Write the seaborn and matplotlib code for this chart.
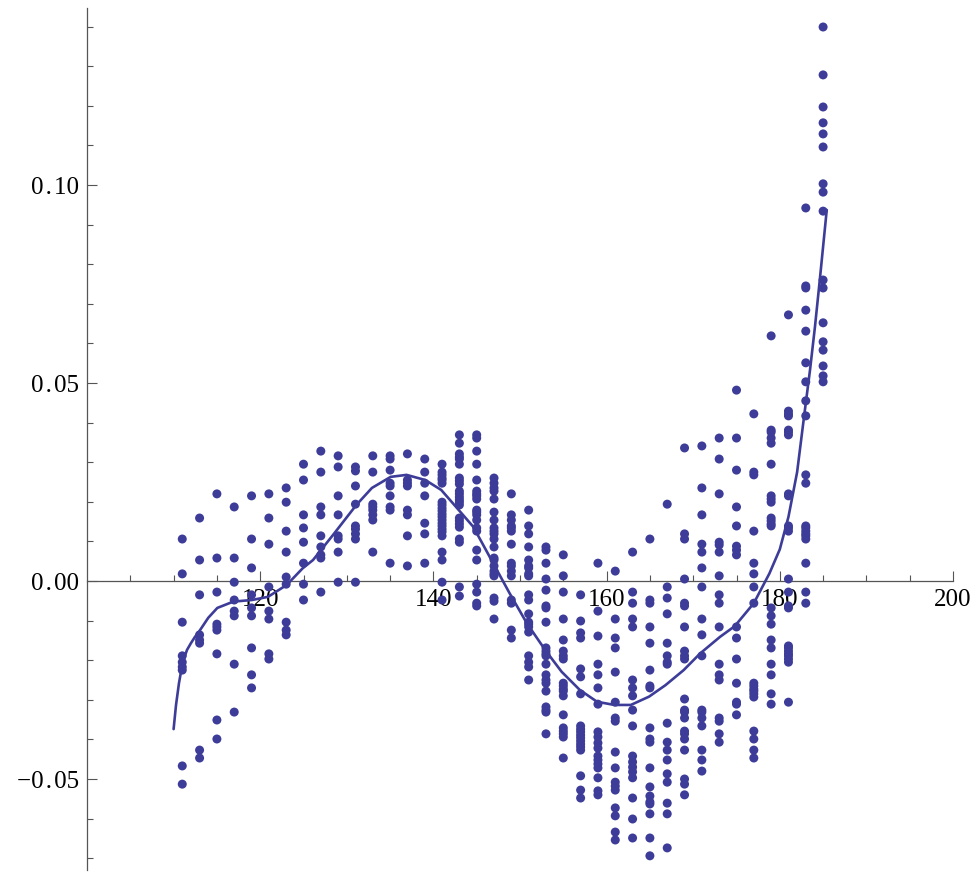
import numpy as np
import pandas as pd
import matplotlib
matplotlib.use("Agg")
import matplotlib.pyplot as plt
import seaborn as sns
from matplotlib.ticker import FixedLocator, FuncFormatter

# ---------------- data ----------------
x_columns = [111, 113, 115, 117, 119, 121, 123, 125, 127, 129, 131, 133, 135, 137,
             139, 141, 143, 145, 147, 149, 151, 153, 155, 157, 159, 161, 163, 165,
             167, 169, 171, 173, 175, 177, 179, 181, 183, 185]

# y values per column, in units of 1e-3
y111 = [10.6, 1.8, -10.4, -18.9, -20.5, -21.7, -22.5, -46.7, -51.3]
y113 = [15.9, 5.3, -3.5, -13.6, -14.9, -15.7, -42.7, -44.7]
y115 = [22.0, 5.8, -2.8, -10.9, -11.6, -12.4, -18.4, -35.1, -39.9]
y117 = [18.7, 5.8, -0.3, -4.8, -7.6, -8.8, -21.0, -33.1]
y119 = [21.5, 10.6, 3.3, -3.5, -6.8, -8.8, -16.9, -23.7, -27.0]
y121 = [22.0, 15.9, 9.3, -1.5, -7.6, -9.6, -18.4, -19.7]
y123 = [23.5, 19.9, 12.6, 7.3, 1.0, -0.8, -10.4, -12.4, -13.6]
y125 = [29.5, 25.5, 16.7, 13.4, 9.8, 4.5, -0.8, -4.8]
y127 = [32.8, 27.5, 18.7, 16.7, 11.4, 8.6, 6.6, 5.8, -2.8]
y129 = [31.6, 28.8, 21.5, 16.7, 11.4, 10.6, 7.3, -0.3]
y131 = [28.8, 27.8, 24.0, 19.4, 13.9, 13.1, 11.9, 10.6, -0.3]
y133 = [31.6, 27.5, 19.4, 18.7, 17.9, 16.7, 15.4, 7.3]
y135 = [31.6, 30.8, 28.0, 24.7, 24.0, 21.5, 18.7, 17.9, 4.5]
y137 = [32.1, 25.5, 24.7, 24.0, 17.9, 16.7, 11.4, 3.8]
y139 = [30.8, 27.5, 24.7, 21.5, 14.6, 11.9, 4.5]
y141 = [29.5, 27.5, 26.8, 26.0, 25.5, 24.7, 19.9, 19.2, 18.4, 17.7, 16.9, 16.2,
        15.4, 14.6, 13.9, 13.1, 12.4, 11.4, 7.3, 5.3, -0.3, -4.8]
y143 = [36.9, 34.8, 32.1, 31.3, 30.8, 29.5, 26.0, 25.3, 24.5, 22.7, 22.0, 21.2,
        20.5, 19.9, 19.2, 15.9, 15.2, 14.4, 13.6, 10.6, 9.8, -1.5, -3.8]
y145 = [36.9, 36.1, 32.8, 29.5, 25.5, 22.7, 22.0, 21.5, 20.7, 17.9, 17.4, 16.7,
        15.4, 13.4, 12.6, 7.8, 5.3, -0.8, -2.8, -5.6, -6.3]
y147 = [26.0, 24.7, 23.5, 22.7, 20.7, 17.4, 15.4, 13.4, 12.6, 11.9, 10.6, 8.6,
        5.8, 5.3, 3.8, 2.5, 1.8, 1.3, -4.3, -5.1, -9.6]
y149 = [22.0, 16.7, 15.4, 13.9, 13.4, 12.6, 9.3, 4.5, 3.8, 2.5, 1.3, -4.8, -5.6,
        -12.4, -14.4]
y151 = [17.9, 13.9, 11.9, 8.6, 5.3, 3.8, 3.3, 1.8, 1.3, -3.5, -4.8, -8.3, -10.4,
        -10.9, -11.6, -12.9, -18.9, -20.5, -21.7, -25.0]
y153 = [8.6, 7.8, 4.5, 0.5, -2.3, -6.3, -6.8, -10.4, -16.9, -17.7, -18.4, -18.9,
        -21.0, -23.7, -25.0, -25.8, -27.8, -31.8, -32.6, -33.1, -38.6]
y155 = [6.6, 1.3, -2.8, -9.6, -14.9, -17.7, -18.9, -19.7, -25.8, -26.5, -27.3,
        -27.8, -29.0, -33.8, -37.1, -37.9, -38.6, -39.4, -44.7]
y157 = [-3.5, -10.1, -13.1, -14.4, -22.2, -24.2, -28.5, -36.6, -37.4, -38.1, -38.9,
        -39.6, -40.4, -41.2, -41.9, -42.7, -49.2, -52.8, -54.8]
y159 = [4.5, -7.6, -13.9, -21.0, -23.7, -27.0, -31.1, -38.1, -39.4, -40.9, -42.2,
        -44.2, -45.2, -46.2, -47.2, -49.7, -53.0, -54.0]
y161 = [2.5, -9.6, -14.4, -16.9, -23.0, -30.6, -34.6, -35.4, -43.2, -47.2, -50.8,
        -51.8, -52.8, -57.3, -59.3, -63.4, -65.4]
y163 = [7.3, -2.8, -5.6, -9.6, -11.6, -25.0, -27.0, -29.0, -32.6, -36.6, -44.2,
        -45.7, -47.0, -48.2, -49.7, -54.8, -60.1, -64.9]
y165 = [10.6, -4.8, -5.6, -11.6, -15.7, -22.5, -26.5, -27.0, -37.1, -39.9, -40.7,
        -47.2, -52.0, -54.3, -55.8, -56.3, -58.8, -64.9, -69.4]
y167 = [19.4, -1.5, -4.3, -8.3, -15.7, -18.9, -20.5, -21.0, -35.9, -40.7, -42.7,
        -45.2, -48.7, -50.8, -56.1, -58.8, -67.4]
y169 = [33.6, 11.9, 10.6, 0.5, -5.6, -6.3, -11.6, -17.7, -18.9, -19.7, -29.8,
        -32.6, -33.1, -34.6, -37.9, -38.6, -39.9, -42.7, -50.0, -51.3, -54.0]
y171 = [34.1, 23.5, 16.7, 9.3, 7.3, 3.3, -1.5, -9.6, -13.6, -18.9, -32.6, -33.1,
        -34.6, -36.6, -42.7, -45.2, -48.0]
y173 = [36.1, 30.8, 22.0, 9.8, 9.1, 7.3, 1.3, -3.5, -5.6, -11.6, -21.0, -23.7,
        -25.0, -34.6, -35.4, -38.6, -40.7]
y175 = [48.2, 36.1, 28.0, 18.7, 13.9, 8.8, 7.8, 6.6, -11.6, -14.4, -19.7, -25.8,
        -30.6, -31.1, -33.8]
y177 = [42.2, 27.5, 26.8, 12.6, 4.5, 1.8, -1.5, -5.6, -25.8, -26.5, -27.3, -27.8,
        -28.5, -29.3, -37.9, -39.9, -42.7, -44.7]
y179 = [61.9, 38.1, 37.6, 36.1, 34.8, 29.5, 21.5, 20.7, 19.9, 15.9, 15.2, 14.4,
        13.9, -6.8, -8.8, -10.9, -14.9, -16.9, -21.0, -23.7, -28.5, -31.1]
y181 = [67.2, 42.9, 42.2, 41.7, 38.1, 37.6, 36.9, 22.0, 21.5, 13.9, 13.4, 12.6,
        0.5, -2.8, -6.3, -6.8, -16.4, -16.9, -17.7, -18.4, -18.9, -19.7, -20.5, -30.6]
y183 = [94.2, 74.5, 74.0, 68.4, 63.1, 55.1, 50.3, 45.5, 41.7, 26.8, 24.7, 13.9,
        13.4, 12.6, 11.9, 11.4, 10.6, 4.5, -2.8, -5.6]
y185 = [139.9, 127.8, 119.7, 115.7, 112.9, 109.6, 100.3, 98.2, 93.4, 76.0, 74.0,
        65.2, 60.4, 58.3, 54.3, 51.8, 50.3]

y_columns = [y111, y113, y115, y117, y119, y121, y123, y125, y127, y129, y131, y133,
             y135, y137, y139, y141, y143, y145, y147, y149, y151, y153, y155, y157,
             y159, y161, y163, y165, y167, y169, y171, y173, y175, y177, y179, y181,
             y183, y185]

# fitted curve (y in units of 1e-3)
curve_x = [110.0, 110.28, 110.62, 111.05, 111.55, 112.0, 112.47, 112.9, 114.0,
           115.05, 116.9, 119.05, 120.9, 123.06, 124.9, 126.1, 128.4, 131.1, 132.9,
           135.07, 136.9, 139.06, 140.9, 141.9, 144.6, 146.9, 148.8, 150.8, 152.9,
           154.8, 156.9, 158.9, 160.9, 162.8, 164.9, 166.8, 168.9, 170.8, 173.1,
           174.8, 177.0, 178.8, 180.0, 181.0, 182.0, 182.8, 183.49, 184.06, 184.64,
           185.42]
curve_y = [-37.4, -31.3, -25.8, -20.5, -17.4, -15.7, -14.1, -12.9, -9.3,
           -6.8, -5.2, -4.8, -4.0, -1.0, 3.2, 5.3, 11.6, 19.2, 23.5,
           26.3, 26.8, 25.5, 23.0, 20.5, 13.7, 4.5, -3.1, -10.7, -17.4,
           -22.9, -27.5, -30.5, -31.3, -31.3, -29.2, -26.3, -22.5, -18.3, -14.1,
           -11.4, -5.6, 1.9, 8.0, 16.2, 27.5, 41.5, 53.3, 64.2, 76.5,
           93.7]

x_major = [120, 140, 160, 180, 200]
y_major = [-0.05, 0.00, 0.05, 0.10]

# ---------------- build tables ----------------
rows = []
for xc, ys in zip(x_columns, y_columns):
    for yv in ys:
        rows.append((xc, yv * 1e-3))
points = pd.DataFrame(rows, columns=["x", "y"])
curve = pd.DataFrame({"x": curve_x, "y": np.array(curve_y) * 1e-3})

# ---------------- style ----------------
sns.set_style("white")
plt.rcParams["font.family"] = ["Liberation Serif", "DejaVu Serif"]
plt.rcParams["axes.unicode_minus"] = True

W, H = 974, 872
fig = plt.figure(figsize=(W / 100, H / 100), dpi=100)
ax = fig.add_axes([87 / W, 2 / H, 866 / W, 862 / H])

color = "#3D3D99"
sns.scatterplot(data=points, x="x", y="y", ax=ax, color=color, s=42,
                linewidth=0, edgecolor="none", zorder=3)
sns.lineplot(data=curve, x="x", y="y", ax=ax, color=color, linewidth=1.9,
             sort=False, estimator=None, zorder=4)

ax.set_xlim(100, 200)
ax.set_ylim((581 - 870) / 3960, (581 - 8) / 3960)

for side in ["top", "right"]:
    ax.spines[side].set_visible(False)
ax.spines["bottom"].set_position(("data", 0))
for side in ["left", "bottom"]:
    ax.spines[side].set_color("#555555")
    ax.spines[side].set_linewidth(0.9)
    ax.spines[side].set_zorder(1)

ax.xaxis.set_major_locator(FixedLocator(x_major))
ax.xaxis.set_minor_locator(FixedLocator([v for v in range(105, 200, 5) if v % 20 != 0]))
ax.yaxis.set_major_locator(FixedLocator(y_major))
ax.yaxis.set_minor_locator(FixedLocator([v / 100 for v in range(-7, 15) if v % 5 != 0]))
ax.xaxis.set_major_formatter(FuncFormatter(lambda v, p: f"{v:.0f}"))


def yfmt(v, p):
    s = f"{v:.2f}".replace("-", "\u2212")
    return s.replace(".", "\u200a.\u200a")


ax.yaxis.set_major_formatter(FuncFormatter(yfmt))

ax.tick_params(axis="both", which="major", direction="in", length=7.2, width=0.8,
               color="#555555", labelsize=18, pad=6, labelcolor="black")
ax.tick_params(axis="both", which="minor", direction="in", length=4.3, width=0.8,
               color="#555555")
ax.tick_params(axis="x", which="both", bottom=True, top=False)
ax.tick_params(axis="y", which="both", left=True, right=False)
ax.set_xlabel("")
ax.set_ylabel("")
ax.grid(False)
ax.patch.set_alpha(0)

fig.savefig("out.png", dpi=100)
